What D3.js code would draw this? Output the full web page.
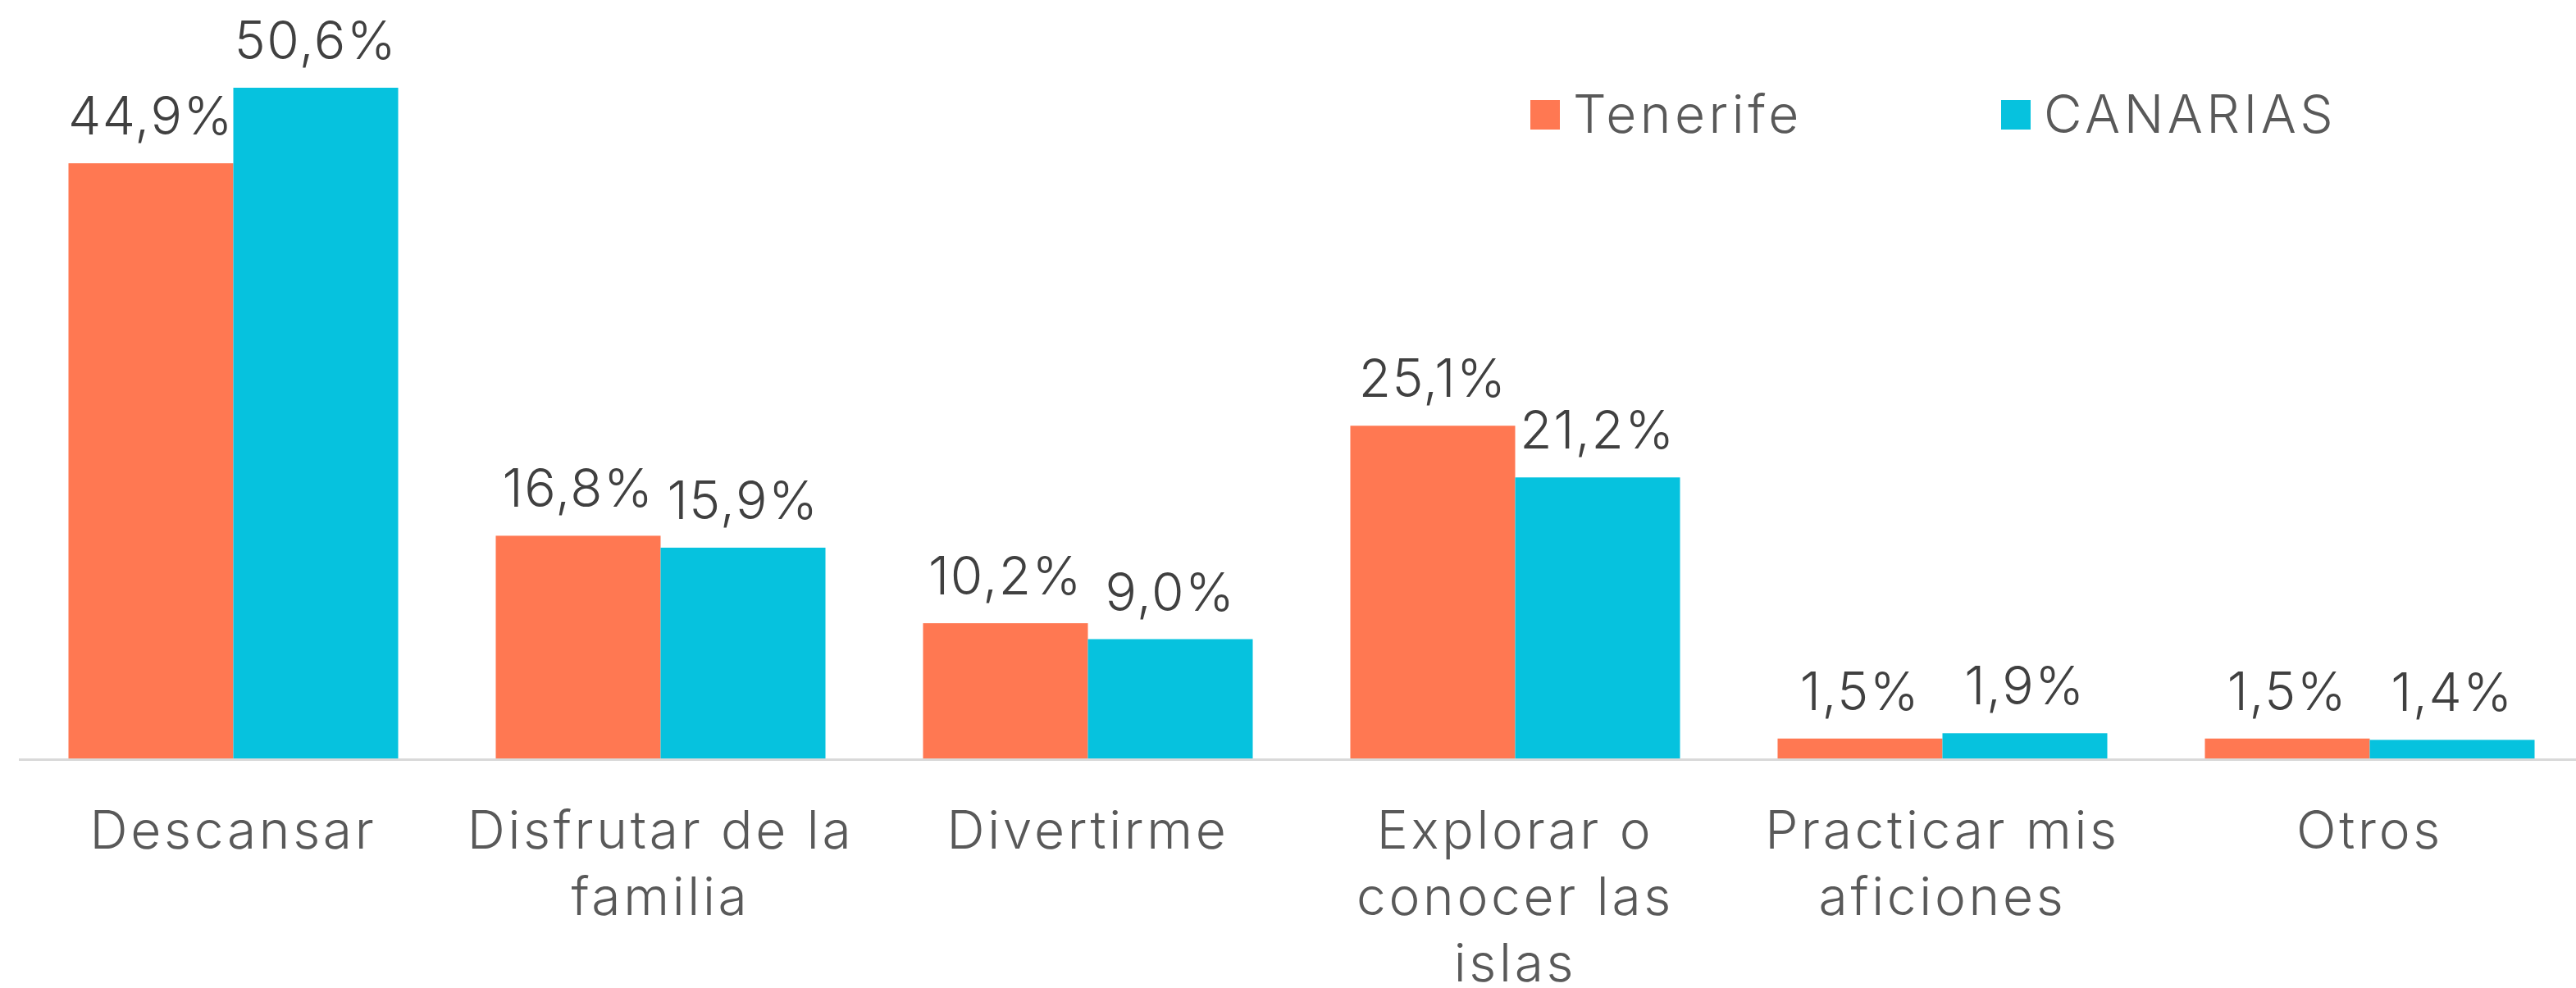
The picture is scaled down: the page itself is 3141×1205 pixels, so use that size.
<!DOCTYPE html>
<html><head><meta charset="utf-8">
<script src="https://cdn.jsdelivr.net/npm/d3@7"></script>
<style>
html,body{margin:0;padding:0;background:#fff;}
svg{display:block;font-family:Inter,"Open Sans",sans-serif;font-weight:300;}
</style></head>
<body><svg id="c" width="3141" height="1205"></svg>
<script>
const categories = ["Descansar","Disfrutar de la familia","Divertirme","Explorar o conocer las islas","Practicar mis aficiones","Otros"];
const categoryLines = [["Descansar"],["Disfrutar de la","familia"],["Divertirme"],["Explorar o","conocer las","islas"],["Practicar mis","aficiones"],["Otros"]];
const seriesNames = ["Tenerife","CANARIAS"];
const tenerife = [44.9,16.8,10.2,25.1,1.5,1.5];
const canarias = [50.6,15.9,9.0,21.2,1.9,1.4];
const colors = ["#FF7852","#06C2DE"];

const svg = d3.select("#c");
const base = 925;
const y = d3.scaleLinear().domain([0,50.6]).range([base,107]);
const x0 = d3.scaleBand().domain(categories).range([24,3150]).padding(0);
const x1 = d3.scaleBand().domain(seriesNames).range([0,x0.bandwidth()]).paddingInner(0).paddingOuter(0.296);
const fmt = v => d3.format(".1f")(v).replace(".",",")+"%";

const data = categories.map((c,i)=>({cat:c, vals:[tenerife[i],canarias[i]]}));

const g = svg.append("g");
const grp = g.selectAll("g.grp").data(data).join("g").attr("transform",d=>`translate(${x0(d.cat)},0)`);
grp.selectAll("rect").data(d=>d.vals.map((v,j)=>({s:seriesNames[j],v,j}))).join("rect")
  .attr("x",d=>x1(d.s)).attr("width",x1.bandwidth())
  .attr("y",d=>y(d.v)).attr("height",d=>base-y(d.v)).attr("fill",d=>colors[d.j]);

// axis line
svg.append("line").attr("x1",23).attr("x2",3141).attr("y1",base+1.5).attr("y2",base+1.5)
  .attr("stroke","#d9d9d9").attr("stroke-width",3);

// value labels
grp.selectAll("text.val").data(d=>d.vals.map((v,j)=>({s:seriesNames[j],v,j}))).join("text")
  .attr("class","val").attr("x",d=>x1(d.s)+x1.bandwidth()/2).attr("y",d=>y(d.v)-35)
  .attr("text-anchor","middle").attr("font-size",64).attr("letter-spacing",1.5).attr("fill","#404040").text(d=>fmt(d.v));

// category labels
const xa = svg.append("g");
categories.forEach((c,i)=>{
  const cx = x0(c)+x0.bandwidth()/2;
  const t = xa.append("text").attr("x",cx).attr("y",1035)
    .attr("text-anchor","middle").attr("font-size",64).attr("letter-spacing",3.7).attr("fill","#595959");
  categoryLines[i].forEach((l,k)=>t.append("tspan").attr("x",cx).attr("dy",k?81:0).text(l));
});

// legend
const legX = [1866,2440];
const leg = svg.append("g");
seriesNames.forEach((s,i)=>{
  leg.append("rect").attr("x",legX[i]).attr("y",122).attr("width",36).attr("height",36).attr("fill",colors[i]);
  leg.append("text").attr("x",legX[i]+52).attr("y",162).attr("font-size",64).attr("letter-spacing",4.5).attr("fill","#595959").text(s);
});
</script></body></html>
